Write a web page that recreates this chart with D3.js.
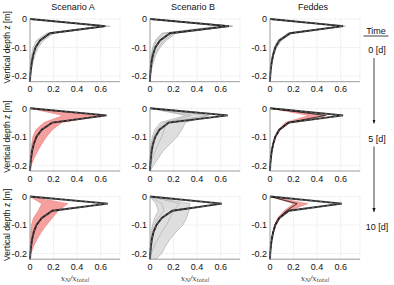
<!DOCTYPE html>
<html><head><meta charset="utf-8">
<script src="https://cdn.jsdelivr.net/npm/d3@7"></script>
<style>body{margin:0;background:#fff}svg{display:block}</style>
</head><body>
<script>
// ---------- data ----------
const scenarios = ["Scenario A", "Scenario B", "Feddes"];
const times = ["0 [d]", "5 [d]", "10 [d]"];
const depth = [0, -0.025, -0.05, -0.075, -0.1, -0.125, -0.15, -0.175, -0.2, -0.22];
const xTicks = [0, 0.2, 0.4, 0.6];
const yTicks = [0, -0.1, -0.2];

// mean profiles (black dashed)
const meanA0  = [0, 0.64, 0.17, 0.085, 0.047, 0.028, 0.016, 0.008, 0.002, 0];
const meanB0  = [0, 0.67, 0.17, 0.085, 0.045, 0.025, 0.013, 0.006, 0.001, 0];
const meanC0  = [0, 0.62, 0.17, 0.080, 0.045, 0.027, 0.015, 0.007, 0.002, 0];
const meanA5  = [0, 0.65, 0.19, 0.100, 0.055, 0.032, 0.018, 0.009, 0.003, 0];
const meanB5  = [0, 0.66, 0.16, 0.080, 0.045, 0.026, 0.014, 0.007, 0.002, 0];
const meanC5  = [0, 0.62, 0.16, 0.080, 0.045, 0.027, 0.015, 0.007, 0.002, 0];
const meanA10 = [0, 0.66, 0.19, 0.100, 0.055, 0.032, 0.018, 0.009, 0.003, 0];
const meanB10 = [0, 0.61, 0.19, 0.100, 0.055, 0.030, 0.016, 0.008, 0.002, 0];
const meanC10 = [0, 0.61, 0.16, 0.080, 0.045, 0.027, 0.015, 0.007, 0.002, 0];

// secondary dark profiles (Feddes, later times)
const innerC5  = [0, 0.47, 0.15, 0.078, 0.044, 0.026, 0.014, 0.007, 0.002, 0];
const innerC10 = [0, 0.23, 0.14, 0.075, 0.043, 0.026, 0.014, 0.007, 0.002, 0];

// uncertainty bands (lower / upper)
const loA0  = [0, 0.60, 0.14, 0.055, 0.026, 0.014, 0.007, 0.003, 0, 0];
const hiA0  = [0, 0.68, 0.20, 0.115, 0.070, 0.043, 0.027, 0.014, 0.004, 0];
const loB0  = [0, 0.58, 0.10, 0.045, 0.022, 0.011, 0.005, 0.002, 0, 0];
const hiB0  = [0, 0.70, 0.22, 0.140, 0.085, 0.050, 0.030, 0.015, 0.005, 0];
const loC0  = [0, 0.60, 0.15, 0.066, 0.036, 0.021, 0.011, 0.005, 0.001, 0];
const hiC0  = [0, 0.64, 0.19, 0.098, 0.057, 0.034, 0.020, 0.009, 0.003, 0];
const loA5  = [0, 0.28, 0.12, 0.050, 0.025, 0.015, 0.008, 0.003, 0, 0];
const hiA5  = [0, 0.62, 0.27, 0.190, 0.140, 0.100, 0.065, 0.035, 0.010, 0];
const loB5  = [0, 0.30, 0.09, 0.040, 0.020, 0.010, 0.005, 0.002, 0, 0];
const hiB5  = [0, 0.50, 0.30, 0.270, 0.230, 0.170, 0.110, 0.070, 0.030, 0];
const loC5  = [0, 0.33, 0.13, 0.070, 0.040, 0.024, 0.013, 0.006, 0.001, 0];
const hiC5  = [0, 0.48, 0.17, 0.085, 0.050, 0.030, 0.017, 0.008, 0.002, 0];
const loA10 = [0, 0.10, 0.07, 0.030, 0.012, 0.008, 0.005, 0.002, 0, 0];
const hiA10 = [0, 0.32, 0.24, 0.190, 0.140, 0.095, 0.060, 0.030, 0.008, 0];
const loB10 = [0, 0.05, 0.07, 0.040, 0.020, 0.012, 0.006, 0.002, 0, 0];
const hiB10 = [0, 0.34, 0.33, 0.310, 0.280, 0.220, 0.170, 0.130, 0.100, 0.05];
const loC10 = [0, 0.20, 0.12, 0.065, 0.040, 0.024, 0.013, 0.006, 0.001, 0];
const hiC10 = [0, 0.32, 0.16, 0.085, 0.050, 0.030, 0.017, 0.008, 0.002, 0];

// thin grey member lines (Scenario B)
const memB0a  = [0, 0.62, 0.11, 0.055, 0.028, 0.015, 0.007, 0.003, 0, 0];
const memB0b  = [0, 0.70, 0.20, 0.120, 0.070, 0.040, 0.022, 0.010, 0.003, 0];
const memB5a  = [0, 0.35, 0.14, 0.120, 0.100, 0.070, 0.045, 0.020, 0.005, 0];
const memB5b  = [0, 0.50, 0.12, 0.060, 0.030, 0.015, 0.007, 0.002, 0, 0];
const memB10a = [0, 0.25, 0.20, 0.170, 0.140, 0.100, 0.065, 0.035, 0.010, 0];
const memB10b = [0, 0.10, 0.12, 0.070, 0.035, 0.020, 0.010, 0.004, 0, 0];

// ---------- panel table ----------
const panels = [
  {r:0,c:0, mean:meanA0, lo:loA0, hi:hiA0, band:"grey", mem:[], inner:null},
  {r:0,c:1, mean:meanB0, lo:loB0, hi:hiB0, band:"grey", mem:[memB0a,memB0b], inner:null},
  {r:0,c:2, mean:meanC0, lo:loC0, hi:hiC0, band:"grey", mem:[], inner:null},
  {r:1,c:0, mean:meanA5, lo:loA5, hi:hiA5, band:"red", mem:[], inner:null},
  {r:1,c:1, mean:meanB5, lo:loB5, hi:hiB5, band:"grey", mem:[memB5a,memB5b], inner:null},
  {r:1,c:2, mean:meanC5, lo:loC5, hi:hiC5, band:"red", mem:[], inner:innerC5},
  {r:2,c:0, mean:meanA10, lo:loA10, hi:hiA10, band:"red", mem:[], inner:null},
  {r:2,c:1, mean:meanB10, lo:loB10, hi:hiB10, band:"grey", mem:[memB10a,memB10b], inner:null},
  {r:2,c:2, mean:meanC10, lo:loC10, hi:hiC10, band:"red", mem:[], inner:innerC10},
];

// ---------- layout ----------
const W = 394, H = 285;
const colLeft = [30, 150, 270], pw = 90;
const rowTop = [19, 108.3, 196.5], ph = 62.7;
const font = "'Liberation Sans', Arial, Helvetica, sans-serif";

const svg = d3.select("body").append("svg").attr("width", W).attr("height", H)
  .style("font-family", font);

const bandStyle = {
  grey: {fill:"#dcdcdc", stroke:"#a8a8a8"},
  red:  {fill:"#f59a9a", stroke:"#ea7a7a"}
};

panels.forEach(p => {
  const x = d3.scaleLinear().domain([0, 0.764]).range([colLeft[p.c], colLeft[p.c] + pw]);
  const y = d3.scaleLinear().domain([-0.22, 0]).range([rowTop[p.r] + ph, rowTop[p.r]]);
  const g = svg.append("g");

  // grid
  const grid = g.append("g").attr("stroke", "#d4d4d4").attr("stroke-width", 0.6)
    .attr("stroke-dasharray", "1.2,1.2");
  xTicks.filter(t => t > 0).concat([0.764]).forEach(t =>
    grid.append("line").attr("x1", x(t)).attr("x2", x(t)).attr("y1", y(0)).attr("y2", y(-0.22)));
  yTicks.forEach(t =>
    grid.append("line").attr("x1", x(0)).attr("x2", x(0.764)).attr("y1", y(t)).attr("y2", y(t)));

  // band
  const area = d3.area().x0((d,i) => x(p.lo[i])).x1((d,i) => x(p.hi[i])).y(d => y(d));
  const bs = bandStyle[p.band];
  g.append("path").datum(depth).attr("d", area).attr("fill", bs.fill).attr("opacity", 0.95);
  [p.lo, p.hi].forEach(arr => {
    g.append("path").datum(depth)
      .attr("d", d3.line().x((d,i) => x(arr[i])).y(d => y(d)))
      .attr("fill", "none").attr("stroke", bs.stroke).attr("stroke-width", 0.6);
  });
  // members
  p.mem.forEach(arr => {
    g.append("path").datum(depth)
      .attr("d", d3.line().x((d,i) => x(arr[i])).y(d => y(d)))
      .attr("fill", "none").attr("stroke", "#a8a8a8").attr("stroke-width", 0.6);
  });
  // inner dark line
  if (p.inner) {
    g.append("path").datum(depth)
      .attr("d", d3.line().x((d,i) => x(p.inner[i])).y(d => y(d)))
      .attr("fill", "none").attr("stroke", "#222").attr("stroke-width", 1).attr("opacity", 0.85);
  }
  // mean band + dashed line
  const ml = d3.line().x((d,i) => x(p.mean[i])).y(d => y(d));
  g.append("path").datum(depth).attr("d", ml).attr("fill", "none")
    .attr("stroke", "#111").attr("stroke-width", 1.9).attr("stroke-linejoin", "miter")
    .attr("opacity", 0.9);
  g.append("path").datum(depth).attr("d", ml).attr("fill", "none")
    .attr("stroke", "#8a8a8a").attr("stroke-width", 0.6).attr("stroke-dasharray", "2.5,2.5");

  // axes lines
  g.append("line").attr("x1", x(0)).attr("x2", x(0)).attr("y1", y(0)).attr("y2", y(-0.22))
    .attr("stroke", "#808080").attr("stroke-width", 0.8);
  g.append("line").attr("x1", x(0)).attr("x2", x(0.764)).attr("y1", y(-0.22)).attr("y2", y(-0.22))
    .attr("stroke", "#808080").attr("stroke-width", 0.8);

  // tick labels
  xTicks.forEach(t => g.append("text").attr("x", x(t)).attr("y", y(-0.22) + 10.5)
    .attr("text-anchor", "middle").attr("font-size", 9).attr("fill", "#111").text(t === 0 ? "0" : t.toFixed(1)));
  yTicks.forEach(t => g.append("text").attr("x", x(0) - 3).attr("y", y(t) + 3.2)
    .attr("text-anchor", "end").attr("font-size", 9).attr("fill", "#111").text(t === 0 ? "0" : t.toFixed(1)));
});

// column titles
scenarios.forEach((s, c) => svg.append("text").attr("x", colLeft[c] + pw / 2 - 2).attr("y", 9.5)
  .attr("text-anchor", "middle").attr("font-size", 9).attr("fill", "#111").text(s));

// y labels
rowTop.forEach(t => svg.append("text")
  .attr("transform", `translate(9.5,${t + ph / 2 - 3}) rotate(-90)`)
  .attr("text-anchor", "middle").attr("font-size", 8.5).attr("fill", "#111").text("Vertical depth z [m]"));

// x labels
colLeft.forEach(l => {
  const t = svg.append("text").attr("x", l + pw / 2).attr("y", 280.5).attr("text-anchor", "middle")
    .attr("font-family", "'DejaVu Serif', 'Liberation Serif', serif").attr("font-style", "italic")
    .attr("font-size", 7.5).attr("fill", "#444");
  t.append("tspan").text("x");
  t.append("tspan").attr("font-size", 5.5).attr("dy", 1.5).text("N");
  t.append("tspan").attr("dy", -1.5).text("/x");
  t.append("tspan").attr("font-size", 5.5).attr("dy", 1.5).text("total");
});

// time annotation
const tx = 375;
svg.append("text").attr("x", tx + 1).attr("y", 33.5).attr("text-anchor", "middle")
  .attr("font-size", 9).attr("fill", "#111").text("Time");
svg.append("line").attr("x1", 363.5).attr("x2", 388.5).attr("y1", 36).attr("y2", 36)
  .attr("stroke", "#111").attr("stroke-width", 0.8);
const timeY = [53, 141.5, 230];
times.forEach((t, i) => svg.append("text").attr("x", tx + 2).attr("y", timeY[i])
  .attr("text-anchor", "middle").attr("font-size", 9).attr("fill", "#111").text(t));
svg.append("defs").append("marker").attr("id", "ah").attr("viewBox", "0 0 10 10")
  .attr("refX", 10).attr("refY", 5).attr("markerWidth", 5).attr("markerHeight", 5)
  .attr("orient", "auto").append("path").attr("d", "M0,1 L10,5 L0,9 Z").attr("fill", "#111");
[[58, 123.5], [146.5, 212]].forEach(([a, b]) => svg.append("line")
  .attr("x1", tx - 1).attr("x2", tx - 1).attr("y1", a).attr("y2", b)
  .attr("stroke", "#111").attr("stroke-width", 0.8).attr("marker-end", "url(#ah)"));
</script>
</body></html>
